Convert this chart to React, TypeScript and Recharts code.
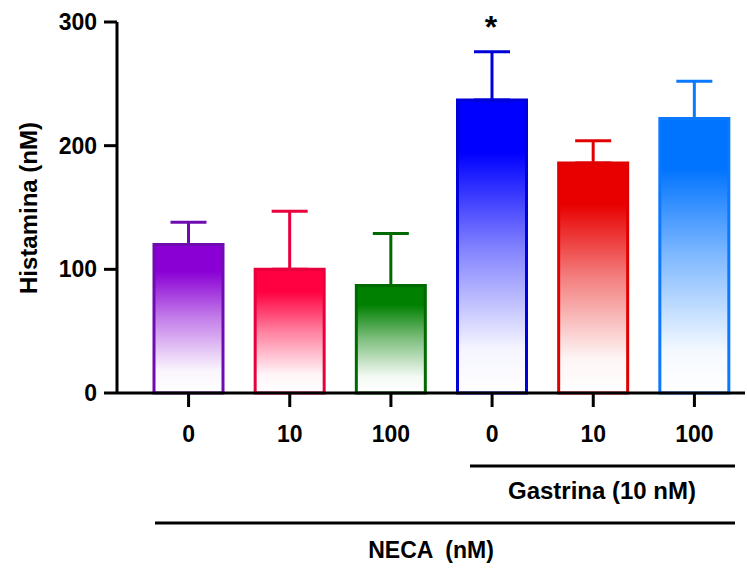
import { Bar, BarChart, Cell, ErrorBar, XAxis, YAxis } from "recharts";

// NECA dose (nM) for each bar; the last three also carry gastrin 10 nM
const categories = ["0", "10", "100", "0", "10", "100"];
// histamine mean (nM) and SEM
const histamine = [120, 100, 87, 237, 186, 222];
const sem = [18, 47, 42, 39, 18, 30];
const yTicks = [0, 100, 200, 300];

const fills = ["#8a00d4", "#ff0040", "#008000", "#0000ff", "#e80000", "#0073ff"];
const strokes = ["#6e0cb0", "#e8003c", "#006a00", "#0000d8", "#e00000", "#0a78ff"];

const FONT = 'Arial, "Liberation Sans", Helvetica, sans-serif';

const rows = categories.map((name, i) => ({ idx: i, name, value: histamine[i], sem: sem[i] }));

export default function App() {
    const tickStyle = { fill: "#000", fontSize: 23, fontWeight: 700, fontFamily: FONT };

    return (
        <div style={{ position: "absolute", left: 0, top: 0, width: 747, height: 569, background: "#fff" }}>
            <BarChart
                width={747}
                height={569}
                data={rows}
                margin={{ top: 22, right: 2, bottom: 146, left: 0 }}
            >
                <defs>
                    {fills.map((c, i) => (
                        <linearGradient key={i} id={`grad${i}`} x1="0" y1="0" x2="0" y2="1">
                            <stop offset="0%" stopColor={c} stopOpacity={1} />
                            <stop offset="18%" stopColor={c} stopOpacity={1} />
                            <stop offset="50%" stopColor={c} stopOpacity={0.5} />
                            <stop offset="85%" stopColor={c} stopOpacity={0.04} />
                            <stop offset="100%" stopColor={c} stopOpacity={0} />
                        </linearGradient>
                    ))}
                </defs>
                <XAxis
                    dataKey="name"
                    height={30}
                    padding={{ left: 21, right: 0 }}
                    axisLine={{ stroke: "#000", strokeWidth: 3 }}
                    tickLine={{ stroke: "#000", strokeWidth: 3 }}
                    tickSize={14}
                    tickMargin={19}
                    tick={tickStyle}
                />
                <YAxis
                    width={117}
                    domain={[0, 300]}
                    ticks={yTicks}
                    axisLine={{ stroke: "#000", strokeWidth: 3 }}
                    tickLine={{ stroke: "#000", strokeWidth: 3 }}
                    tickSize={13}
                    tickMargin={7}
                    tick={tickStyle}
                />
                <Bar dataKey="value" barSize={69} isAnimationActive={false}>
                    {rows.map((r, i) => (
                        <Cell key={i} fill={`url(#grad${i})`} stroke={strokes[i]} strokeWidth={3} />
                    ))}
                    {rows.map((r, i) => (
                        <ErrorBar
                            key={`e${i}`}
                            dataKey={(d: any) => (d.idx === i ? [0, d.sem] : null)}
                            width={18}
                            stroke={strokes[i]}
                            strokeWidth={3}
                            isAnimationActive={false}
                        />
                    ))}
                </Bar>
            </BarChart>

            {/* axis title, significance mark and treatment brackets */}
            <svg
                width={747}
                height={569}
                style={{ position: "absolute", left: 0, top: 0, pointerEvents: "none" }}
                fontFamily={FONT}
                fontWeight={700}
            >
                <text x={28} y={208} fontSize={24} textAnchor="middle" dominantBaseline="central" transform="rotate(-90 28 208)">
                    Histamina (nM)
                </text>
                <text x={491} y={38} fontSize={32} textAnchor="middle">*</text>
                <line x1={470} x2={735} y1={466} y2={466} stroke="#000" strokeWidth={3} />
                <text x={602} y={499} fontSize={24} textAnchor="middle">Gastrina (10 nM)</text>
                <line x1={155} x2={735} y1={523} y2={523} stroke="#000" strokeWidth={3} />
                <text x={431} y={558} fontSize={23} textAnchor="middle" style={{ whiteSpace: "pre" }}>NECA  (nM)</text>
            </svg>
        </div>
    );
}
